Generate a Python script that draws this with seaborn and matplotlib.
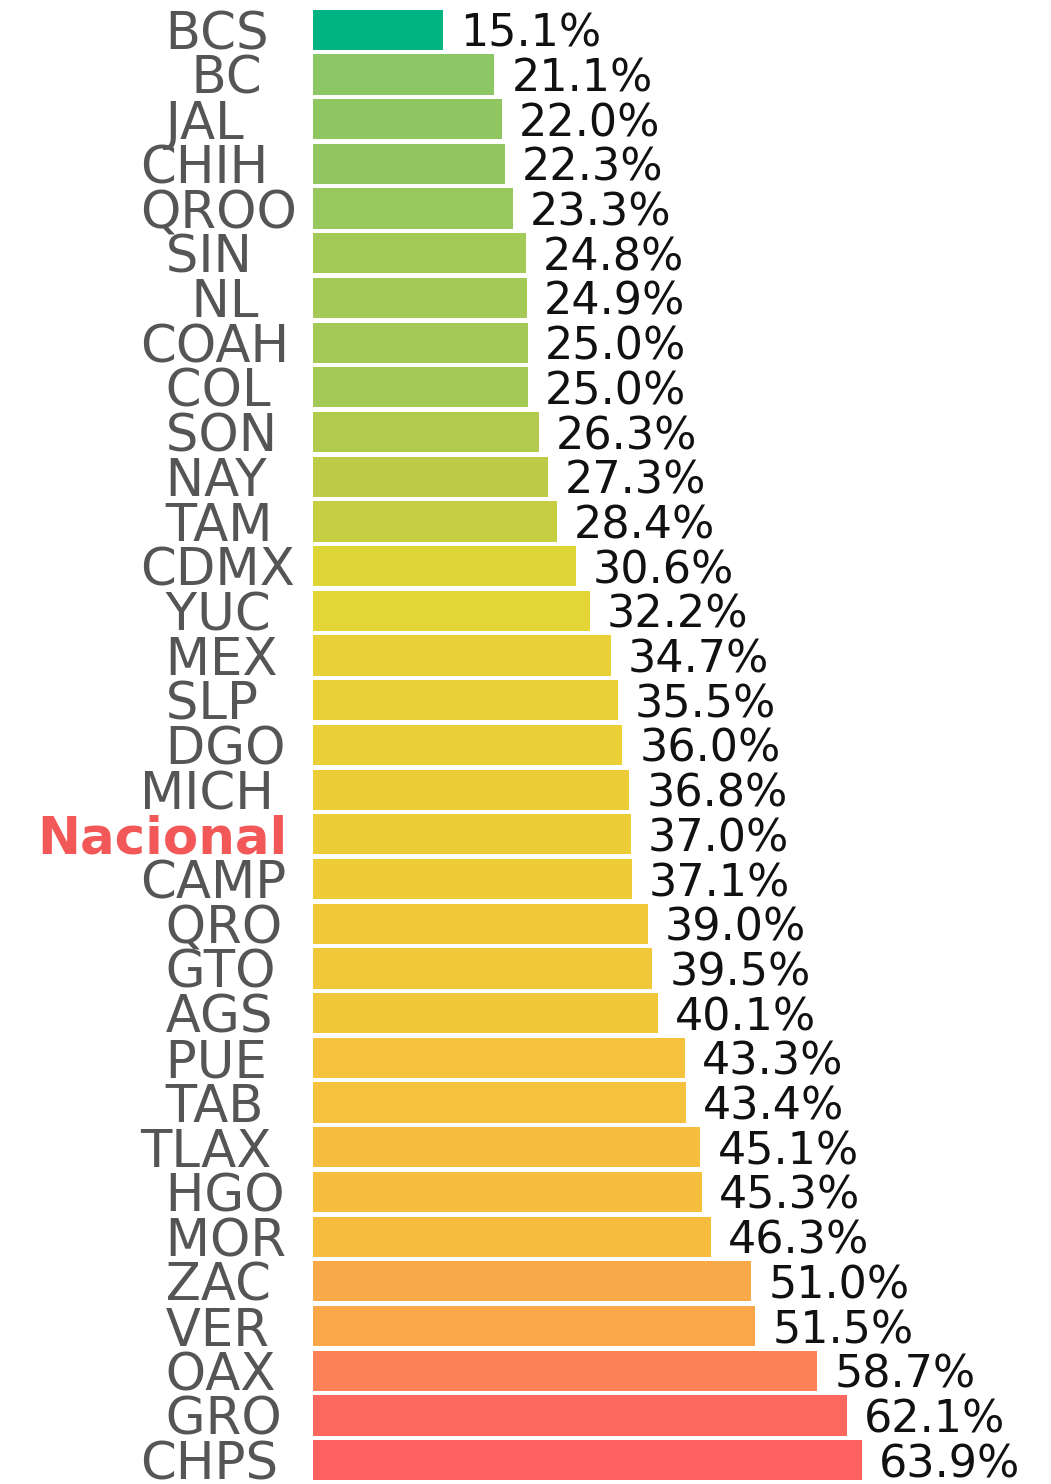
import numpy as np
import pandas as pd
import matplotlib
matplotlib.use("Agg")
import matplotlib.pyplot as plt
import seaborn as sns

# Data
estados = ["BCS", "BC", "JAL", "CHIH", "QROO", "SIN", "NL", "COAH", "COL", "SON",
           "NAY", "TAM", "CDMX", "YUC", "MEX", "SLP", "DGO", "MICH", "Nacional", "CAMP",
           "QRO", "GTO", "AGS", "PUE", "TAB", "TLAX", "HGO", "MOR", "ZAC", "VER",
           "OAX", "GRO", "CHPS"]
porcentajes = [15.1, 21.1, 22.0, 22.3, 23.3, 24.8, 24.9, 25.0, 25.0, 26.3,
               27.3, 28.4, 30.6, 32.2, 34.7, 35.5, 36.0, 36.8, 37.0, 37.1,
               39.0, 39.5, 40.1, 43.3, 43.4, 45.1, 45.3, 46.3, 51.0, 51.5,
               58.7, 62.1, 63.9]
colores = ["#00b383", "#8cc665", "#90c662", "#91c660", "#98c75d", "#a3c957", "#a4c956",
           "#a5c956", "#a5c956", "#b2cb4f", "#bccc48", "#c6ce41", "#ded637", "#e3d535",
           "#e8d136", "#e9d037", "#eacf37", "#eccd38", "#eccd38", "#edcc38", "#efc938",
           "#f0c839", "#f1c73a", "#f4c23c", "#f4c23c", "#f5bf3d", "#f5bf3d", "#f6bc3e",
           "#f9a948", "#f9a749", "#fc8156", "#fe675e", "#ff6060"]

df = pd.DataFrame({"estado": estados, "pct": porcentajes})

fig = plt.figure(figsize=(10.51, 14.84), dpi=100)
ax = fig.add_axes([313 / 1051, 0.001, 738 / 1051, 0.994])

sns.barplot(data=df, x="pct", y="estado", hue="estado", palette=colores,
            legend=False, orient="h", width=0.9, saturation=1, ax=ax)

ax.set_xlim(0, 85.9)
ax.set_xlabel("")
ax.set_ylabel("")
ax.set_xticks([])
ax.set_yticks([])
sns.despine(ax=ax, left=True, bottom=True)

# state labels, left aligned with padding (Nacional highlighted)
for i, nombre in enumerate(estados):
    if nombre == "Nacional":
        ax.annotate(nombre, xy=(0, i), xycoords=("axes fraction", "data"),
                    xytext=(-25, 0), textcoords="offset pixels",
                    ha="right", va="center_baseline", fontsize=37,
                    fontweight="bold", color="#f25858")
    else:
        relleno = "\u2002" * (4 - len(nombre))
        ax.annotate(relleno + nombre, xy=(0, i), xycoords=("axes fraction", "data"),
                    xytext=(-173, 0), textcoords="offset pixels",
                    ha="left", va="center_baseline", fontsize=37, color="#555555")

# value labels
for i, v in enumerate(porcentajes):
    ax.annotate(f"{v:.1f}%", xy=(v, i), xytext=(17, 0), textcoords="offset pixels",
                ha="left", va="center_baseline", fontsize=32, color="#111111")

fig.savefig("out.png", dpi=100)
